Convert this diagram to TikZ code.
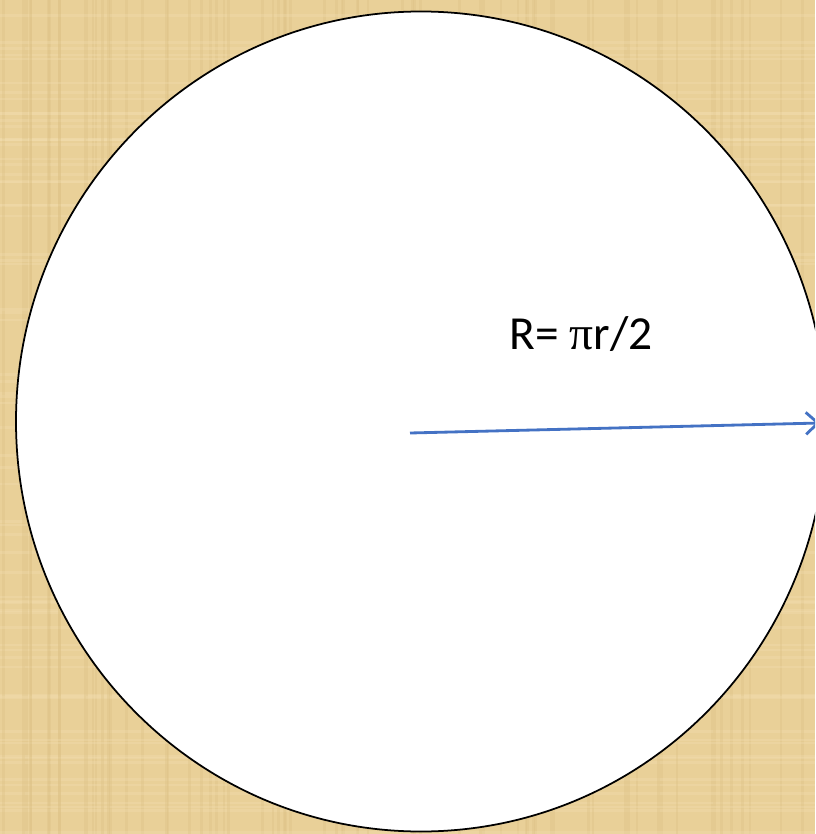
\documentclass[tikz,border=0pt]{standalone}
\usepackage{fontspec}
\setmainfont{Carlito}
\newfontfamily\greekfont{Liberation Serif}
\usetikzlibrary{arrows.meta}
\definecolor{parchment}{RGB}{233,208,152}
\definecolor{parchdark}{RGB}{220,193,132}
\definecolor{parchlight}{RGB}{242,222,175}
\definecolor{radiusblue}{RGB}{68,114,196}

\begin{document}
\begin{tikzpicture}[x=0.02cm, y=-0.02cm,
  disc/.style={draw=black, line width=1pt, fill=white},
  radiusarr/.style={draw=radiusblue, line width=1.6pt, -{Straight Barb[length=2.4mm, width=4.4mm]}},
  grain/.style={line width=1.5pt, opacity=0.35},
  lbl/.style={font=\fontsize{27}{32}\selectfont, inner sep=0pt}
]
  \useasboundingbox (0,0) rectangle (815,834);
  \clip (0,0) rectangle (815,834);

  %% Parchment background
  \fill[parchment] (0,0) rectangle (815,834);
  \pgfmathsetseed{7}
  \foreach \i in {1,...,70} {
    \pgfmathsetmacro\gx{rnd*815}
    \pgfmathsetmacro\gy{rnd*834}
    \draw[grain, parchdark] (\gx,0) -- (\gx,834);
    \draw[grain, parchlight] (0,\gy) -- (815,\gy);
  }

  %% Disc
  \draw[disc] (421,421.5) ellipse [x radius=405, y radius=410];

  %% Radius
  \coordinate (centre) at (410,433);
  \coordinate (rim) at (820,423);
  \draw[radiusarr] (centre) -- (rim);

  %% Label
  \node[lbl] (formula) at (581,334) {R= {\greekfont π}r/2};
\end{tikzpicture}
\end{document}
